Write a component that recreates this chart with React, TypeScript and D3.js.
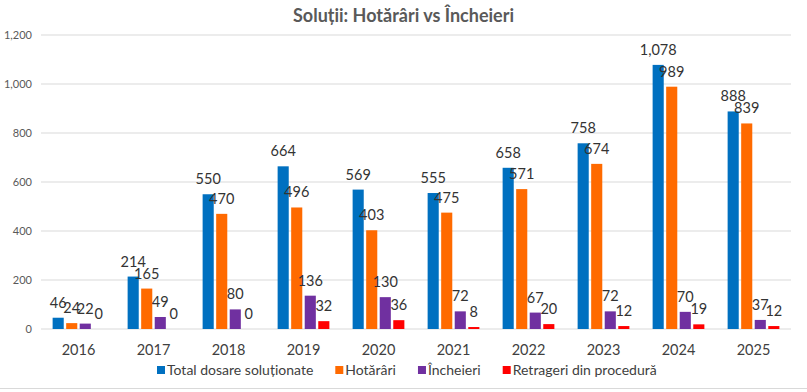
import * as d3 from "d3";
import { useEffect, useRef } from "react";

const years = ["2016", "2017", "2018", "2019", "2020", "2021", "2022", "2023", "2024", "2025"];
const seriesNames = ["Total dosare soluționate", "Hotărâri", "Încheieri", "Retrageri din procedură"];
const seriesColors = ["#0070C0", "#FF6A00", "#7030A0", "#FF0000"];
const totalDosare = [46, 214, 550, 664, 569, 555, 658, 758, 1078, 888];
const hotarari = [24, 165, 470, 496, 403, 475, 571, 674, 989, 839];
const incheieri = [22, 49, 80, 136, 130, 72, 67, 72, 70, 37];
const retrageri = [0, 0, 0, 32, 36, 8, 20, 12, 19, 12];
const yTicks = [0, 200, 400, 600, 800, 1000, 1200];

const width = 807;
const height = 392;
const margin = { top: 35, right: 16, bottom: 63, left: 41 };
const font = "Lato, 'Open Sans', sans-serif";

export default function App() {
  const svgRef = useRef<SVGSVGElement>(null);

  useEffect(() => {
    document.body.style.margin = "0";
    const svg = d3.select(svgRef.current);
    svg.selectAll("*").remove();

    const values = [totalDosare, hotarari, incheieri, retrageri];
    const x0 = d3
      .scaleBand<string>()
      .domain(years)
      .range([margin.left, width - margin.right])
      .paddingInner(0.31)
      .paddingOuter(0.155);
    const x1 = d3
      .scaleBand<number>()
      .domain(d3.range(seriesNames.length))
      .range([0, x0.bandwidth()])
      .paddingInner(0.18);
    const y = d3.scaleLinear([0, 1200], [height - margin.bottom, margin.top]);

    // title
    svg
      .append("text")
      .attr("x", width / 2)
      .attr("y", 22)
      .attr("text-anchor", "middle")
      .attr("font-family", font)
      .attr("font-weight", "bold")
      .attr("font-size", 18)
      .attr("fill", "#595959")
      .text("Soluții: Hotărâri vs Încheieri");

    // grid + y labels
    const grid = svg.append("g");
    grid
      .selectAll("line")
      .data(yTicks)
      .join("line")
      .attr("x1", margin.left)
      .attr("x2", width - margin.right)
      .attr("y1", (d) => y(d))
      .attr("y2", (d) => y(d))
      .attr("stroke", "#d9d9d9")
      .attr("stroke-width", 1);
    grid
      .selectAll("text")
      .data(yTicks)
      .join("text")
      .attr("x", 32)
      .attr("y", (d) => y(d))
      .attr("dy", "0.35em")
      .attr("text-anchor", "end")
      .attr("font-family", font)
      .attr("font-size", 11)
      .attr("fill", "#595959")
      .text((d) => d3.format(",")(d));

    // bars
    const groups = svg
      .append("g")
      .selectAll("g")
      .data(years)
      .join("g")
      .attr("transform", (d) => `translate(${x0(d)},0)`);

    groups.each(function (yr, i) {
      const g = d3.select(this);
      const items = values.map((arr, s) => ({ s, v: arr[i] }));
      g.selectAll("rect")
        .data(items)
        .join("rect")
        .attr("x", (d) => x1(d.s)!)
        .attr("width", x1.bandwidth())
        .attr("y", (d) => y(d.v))
        .attr("height", (d) => y(0) - y(d.v))
        .attr("fill", (d) => seriesColors[d.s]);
      g.selectAll("text")
        .data(items)
        .join("text")
        .attr("x", (d) => x1(d.s)! + x1.bandwidth() / 2)
        .attr("y", (d) => y(d.v) - 10)
        .attr("text-anchor", "middle")
        .attr("font-family", font)
        .attr("font-size", 14.5)
        .attr("fill", "#333333")
        .text((d) => d3.format(",")(d.v));
    });

    // x labels
    svg
      .append("g")
      .selectAll("text")
      .data(years)
      .join("text")
      .attr("x", (d) => x0(d)! + x0.bandwidth() / 2)
      .attr("y", 355)
      .attr("text-anchor", "middle")
      .attr("font-family", font)
      .attr("font-size", 14.5)
      .attr("fill", "#404040")
      .text((d) => d);

    // legend
    const legend = svg.append("g");
    const items = legend
      .selectAll("g")
      .data(seriesNames)
      .join("g");
    items
      .append("rect")
      .attr("width", 8)
      .attr("height", 8)
      .attr("y", -4)
      .attr("fill", (d, i) => seriesColors[i]);
    items
      .append("text")
      .attr("x", 10)
      .attr("dy", "0.35em")
      .attr("font-family", font)
      .attr("font-size", 14)
      .attr("fill", "#404040")
      .text((d) => d);
    const widths: number[] = [];
    items.each(function () {
      widths.push((this as SVGGElement).getBBox().width);
    });
    const gap = 22;
    let cx = 157;
    items.attr("transform", (d, i) => {
      const t = `translate(${cx},370)`;
      cx += widths[i] + gap;
      return t;
    });

    // bottom border
    svg
      .append("line")
      .attr("x1", 0)
      .attr("x2", width)
      .attr("y1", 388.5)
      .attr("y2", 388.5)
      .attr("stroke", "#d9d9d9");
  }, []);

  return <svg ref={svgRef} width={width} height={height} style={{ display: "block", background: "#fff" }} />;
}
